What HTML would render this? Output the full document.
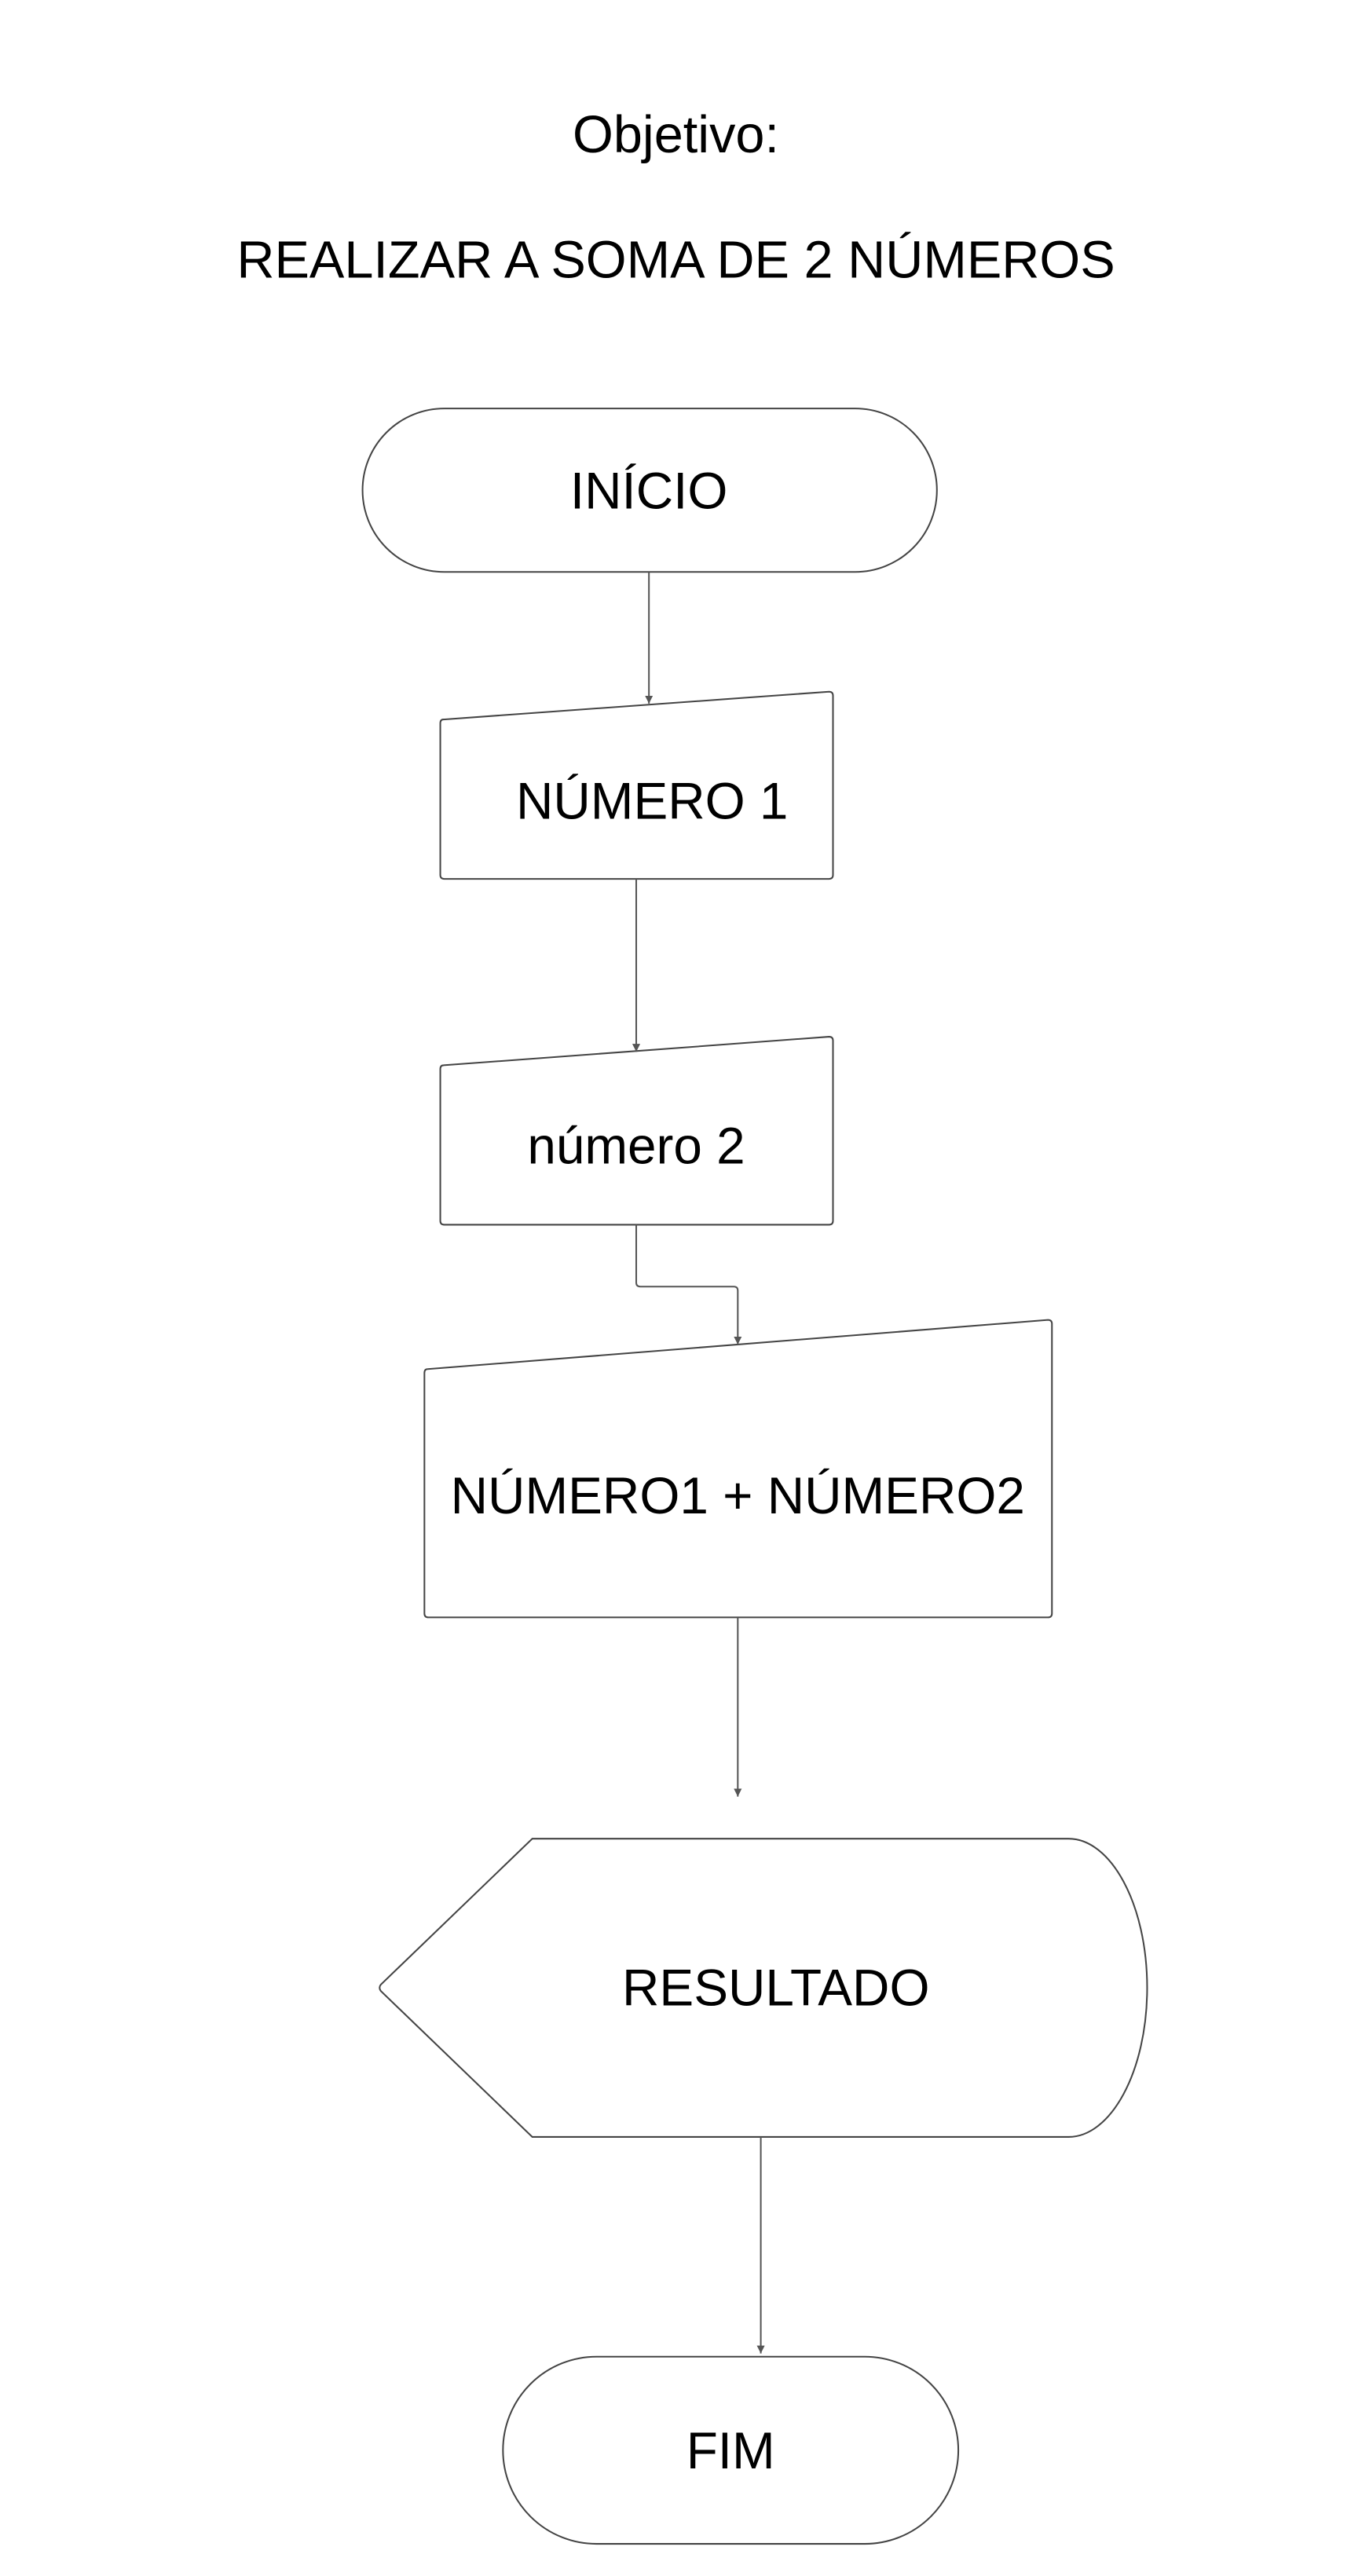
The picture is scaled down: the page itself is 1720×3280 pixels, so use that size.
<!DOCTYPE html>
<html><head><meta charset="utf-8"><style>
html,body{margin:0;padding:0;background:#fff;}
svg{display:block;}
text{font-family:"Liberation Sans",sans-serif;fill:#000;}
</style></head><body>
<svg width="1720" height="3280" viewBox="0 0 1720 3280" xmlns="http://www.w3.org/2000/svg">
<defs><marker id="a" markerWidth="12" markerHeight="12" refX="10" refY="5" orient="auto" markerUnits="userSpaceOnUse"><path d="M0,0 L10,5 L0,10 z" fill="#555"/></marker></defs>
<rect width="1720" height="3280" fill="#fff"/>
<g transform="scale(1.01)">
<text x="852" y="192" font-size="66" text-anchor="middle">Objetivo:</text>
<text x="852" y="350" font-size="66" text-anchor="middle">REALIZAR A SOMA DE 2 NÚMEROS</text>
<g fill="none" stroke="#444" stroke-width="2">
<rect x="457" y="515" width="724" height="206" rx="103" ry="103"/>
<path d="M559,907 L1045,872 Q1050,872 1050,877 L1050,1103 Q1050,1108 1045,1108 L560,1108 Q555,1108 555,1103 L555,912 Q555,907 559,907 Z"/>
<path d="M559,1343 L1045,1307 Q1050,1307 1050,1312 L1050,1539 Q1050,1544 1045,1544 L560,1544 Q555,1544 555,1539 L555,1348 Q555,1343 559,1343 Z"/>
<path d="M539,1726 L1321,1664 Q1326,1664 1326,1669 L1326,2034 Q1326,2039 1321,2039 L540,2039 Q535,2039 535,2034 L535,1731 Q535,1726 539,1726 Z"/>
<path d="M671,2318 L1347,2318 C1400,2318 1446,2400 1446,2506 C1446,2612 1400,2694 1347,2694 L671,2694 L480,2510 Q477,2506 480,2502 Z"/>
<rect x="634" y="2971" width="574" height="236" rx="118" ry="118"/>
</g>
<g fill="none" stroke="#555" stroke-width="2">
<line x1="818" y1="721" x2="818" y2="887" marker-end="url(#a)"/>
<line x1="802" y1="1108" x2="802" y2="1326" marker-end="url(#a)"/>
<path d="M802,1544 L802,1617 Q802,1622 807,1622 L925,1622 Q930,1622 930,1627 L930,1695" marker-end="url(#a)"/>
<line x1="930" y1="2039" x2="930" y2="2265" marker-end="url(#a)"/>
<line x1="959" y1="2694" x2="959" y2="2967" marker-end="url(#a)"/>
</g>
<text x="818" y="641" font-size="65" text-anchor="middle">INÍCIO</text>
<text x="822" y="1032" font-size="65" text-anchor="middle">NÚMERO 1</text>
<text x="802" y="1467" font-size="65" text-anchor="middle">número 2</text>
<text x="930" y="1908" font-size="65" text-anchor="middle">NÚMERO1 + NÚMERO2</text>
<text x="978" y="2528" font-size="65" text-anchor="middle">RESULTADO</text>
<text x="921" y="3112" font-size="65" text-anchor="middle">FIM</text>
</g>
</svg>
</body></html>
